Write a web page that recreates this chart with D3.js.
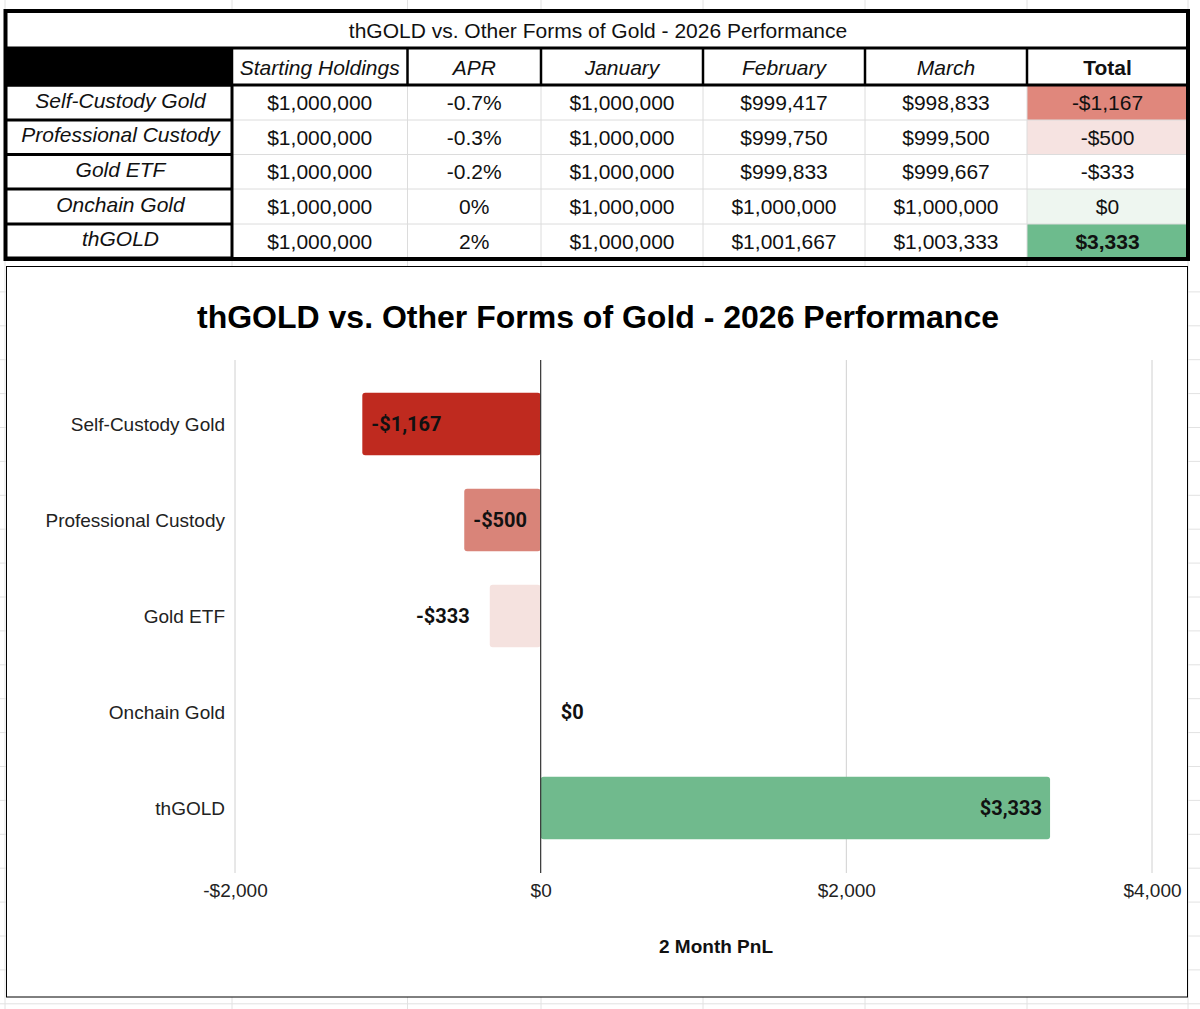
<!DOCTYPE html>
<html>
<head>
<meta charset="utf-8">
<script src="https://cdn.jsdelivr.net/npm/d3@7"></script>
<style>
body{margin:0;background:#fff;}
svg{display:block;}
</style>
</head>
<body>
<svg id="svg" width="1200" height="1009"></svg>
<script>
// data
const categories=["Self-Custody Gold","Professional Custody","Gold ETF","Onchain Gold","thGOLD"];
const headers=["Starting Holdings","APR","January","February","March","Total"];
const startHoldings=[1000000,1000000,1000000,1000000,1000000];
const aprLabels=["-0.7%","-0.3%","-0.2%","0%","2%"];
const january=[1000000,1000000,1000000,1000000,1000000];
const february=[999417,999750,999833,1000000,1001667];
const march=[998833,999500,999667,1000000,1003333];
const totals=[-1167,-500,-333,0,3333];
const xTicks=[-2000,0,2000,4000];
const tableTitle="thGOLD vs. Other Forms of Gold - 2026 Performance";
const chartTitle="thGOLD vs. Other Forms of Gold - 2026 Performance";
const axisTitle="2 Month PnL";

// styles
const totalCellColors=["#e0877c","#f6e3e1","#ffffff","#eef6f0","#6dbb8d"];
const barColors=["#bf2a1f","#d98479","#f5e2df","#cccccc","#70ba8d"];
const sans="'Liberation Sans', Arial, sans-serif";

const loc=d3.formatLocale({decimal:".",thousands:",",grouping:[3],currency:["$",""],minus:"-"});
const money=loc.format("$,.0f");

const svg=d3.select("#svg");

// spreadsheet grid behind everything
const colEdges=[5,232,407.5,541,703,865,1027,1188];
const bg=svg.append("g");
colEdges.forEach(x=>{
    bg.append("line").attr("x1",x).attr("x2",x).attr("y1",0).attr("y2",1009).attr("stroke","#e2e2e2");
});
for(let y=258+33.9;y<1009;y+=33.9)
{
    bg.append("line").attr("x1",0).attr("x2",1200).attr("y1",y).attr("y2",y).attr("stroke","#e2e2e2");
}

// ---------- table ----------
const rowEdges=[85,120,154.5,189,224,258];
const t=svg.append("g");
t.append("rect").attr("x",5.5).attr("y",11).attr("width",1182.5).attr("height",248).attr("fill","#fff");

// total column fill
totals.forEach((v,i)=>{
    t.append("rect").attr("x",colEdges[6]).attr("y",rowEdges[i]).attr("width",colEdges[7]-colEdges[6]).attr("height",rowEdges[i+1]-rowEdges[i]).attr("fill",totalCellColors[i]);
});

// light inner grid of the data area
rowEdges.slice(1,-1).forEach(y=>{
    t.append("line").attr("x1",232).attr("x2",1188).attr("y1",y).attr("y2",y).attr("stroke","#dcdcdc");
});
colEdges.slice(2,-1).forEach(x=>{
    t.append("line").attr("x1",x).attr("x2",x).attr("y1",85).attr("y2",258).attr("stroke","#dcdcdc");
});

// black header cell + borders
t.append("rect").attr("x",5).attr("y",48).attr("width",227).attr("height",37).attr("fill","#000");
t.append("line").attr("x1",5).attr("x2",1188).attr("y1",48).attr("y2",48).attr("stroke","#000").attr("stroke-width",3);
t.append("line").attr("x1",5).attr("x2",1188).attr("y1",85).attr("y2",85).attr("stroke","#000").attr("stroke-width",3);
colEdges.slice(1,-1).forEach(x=>{
    t.append("line").attr("x1",x).attr("x2",x).attr("y1",48).attr("y2",85).attr("stroke","#000").attr("stroke-width",2.5);
});
rowEdges.forEach(y=>{
    t.append("line").attr("x1",5).attr("x2",232).attr("y1",y).attr("y2",y).attr("stroke","#000").attr("stroke-width",3);
});
t.append("line").attr("x1",232).attr("x2",232).attr("y1",85).attr("y2",258).attr("stroke","#000").attr("stroke-width",3);
t.append("rect").attr("x",5.5).attr("y",11).attr("width",1182.5).attr("height",248).attr("fill","none").attr("stroke","#000").attr("stroke-width",4);

t.append("text").attr("x",598).attr("y",37.5).attr("text-anchor","middle").style("font-family",sans).style("font-size","21px").style("fill","#111").text(tableTitle);

headers.forEach((h,j)=>{
    t.append("text").attr("x",(colEdges[j+1]+colEdges[j+2])/2).attr("y",75)
        .attr("text-anchor","middle").style("font-family",sans).style("font-size","21px")
        .style("font-style",h=="Total"?"normal":"italic").style("font-weight",h=="Total"?700:400)
        .style("fill","#111").text(h);
});

const rows=categories.map((c,i)=>[money(startHoldings[i]),aprLabels[i],money(january[i]),money(february[i]),money(march[i]),money(totals[i])]);
rows.forEach((r,i)=>{
    let cy=(rowEdges[i]+rowEdges[i+1])/2;
    t.append("text").attr("x",(colEdges[0]+colEdges[1])/2+2).attr("y",cy+5).attr("text-anchor","middle")
        .style("font-family",sans).style("font-size","21px").style("font-style","italic").style("fill","#111").text(categories[i]);
    r.forEach((v,j)=>{
        t.append("text").attr("x",(colEdges[j+1]+colEdges[j+2])/2).attr("y",cy+7.5).attr("text-anchor","middle")
            .style("font-family",sans).style("font-size","21px")
            .style("font-weight",(j==5 && i==4)?700:400).style("fill","#111").text(v);
    });
});

// ---------- chart ----------
const c=svg.append("g");
c.append("rect").attr("x",6.5).attr("y",266.5).attr("width",1181).attr("height",730.5).attr("fill","#fff").attr("stroke","#000");

c.append("text").attr("x",598).attr("y",328).attr("text-anchor","middle")
    .style("font-family",sans).style("font-size","32px").style("font-weight",700).style("fill","#000").text(chartTitle);

const x=d3.scaleLinear().domain([-2000,4000]).range([235,1152]);
const y=d3.scaleBand().domain(categories).range([376,856]).paddingInner(0.35).paddingOuter(0.175);
const gridTop=360, gridBottom=873;

xTicks.filter(d=>d!=0).forEach(d=>{
    c.append("line").attr("x1",x(d)).attr("x2",x(d)).attr("y1",gridTop).attr("y2",gridBottom).attr("stroke","#d0d0d0");
});

// tick labels through d3 axis
const axis=c.append("g").attr("transform","translate(0,"+gridBottom+")")
    .call(d3.axisBottom(x).tickValues(xTicks).tickFormat(money).tickSize(0).tickPadding(11));
axis.select(".domain").remove();
axis.selectAll("text").style("font-family",sans).style("font-size","19px").style("fill","#222");

c.append("text").attr("x",716).attr("y",953).attr("text-anchor","middle")
    .style("font-family",sans).style("font-size","19px").style("font-weight",700).style("fill","#111").text(axisTitle);

// category labels
categories.forEach(cat=>{
    c.append("text").attr("x",225).attr("y",y(cat)+y.bandwidth()/2).attr("dy","0.35em").attr("text-anchor","end")
        .style("font-family",sans).style("font-size","19px").style("fill","#222").text(cat);
});

// bars
totals.forEach((v,i)=>{
    if(v==0) return;
    c.append("rect").attr("x",x(Math.min(0,v))).attr("y",y(categories[i]))
        .attr("width",Math.abs(x(v)-x(0))).attr("height",y.bandwidth()).attr("rx",3)
        .attr("fill",barColors[i]);
});

c.append("line").attr("x1",x(0)).attr("x2",x(0)).attr("y1",gridTop).attr("y2",gridBottom).attr("stroke","#333").attr("stroke-width",1.2);

// value labels: inside the far end when they fit, else outside
totals.forEach((v,i)=>{
    let lbl=c.append("text").attr("y",y(categories[i])+y.bandwidth()/2).attr("dy","0.36em")
        .style("font-family","Roboto").style("font-size","20px").style("font-weight",700).style("fill","#111").text(money(v));
    let w=lbl.node().getComputedTextLength();
    let barW=Math.abs(x(v)-x(0));
    if(v<0)
    {
        if(w+18<barW) lbl.attr("x",x(v)+9).attr("text-anchor","start");
        else lbl.attr("x",x(v)-20).attr("text-anchor","end");
    }
    else if(v>0 && w+16<barW)
    {
        lbl.attr("x",x(v)-8).attr("text-anchor","end");
    }
    else
    {
        lbl.attr("x",x(v)+20).attr("text-anchor","start");
    }
});
</script>
</body>
</html>
